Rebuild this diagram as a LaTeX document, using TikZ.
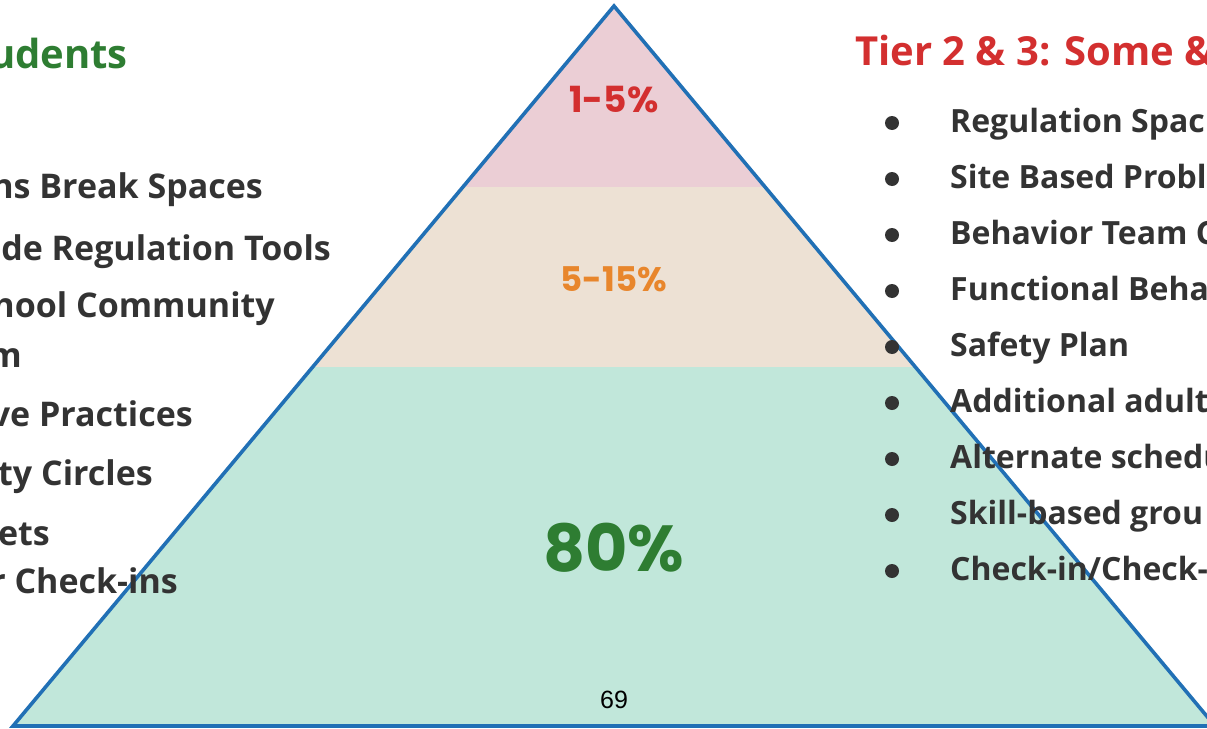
\documentclass[tikz,border=0pt]{standalone}
\usepackage{fontspec}
\setmainfont{Open Sans}
\newfontfamily\pctfont{Poppins}
\newfontfamily\numfont{Liberation Sans}
\definecolor{tgreen}{HTML}{2E7D32}
\definecolor{tred}{HTML}{D32F2F}
\definecolor{torange}{HTML}{E8862C}
\definecolor{tdark}{HTML}{333333}
\definecolor{fpink}{HTML}{EBCED5}
\definecolor{fbeige}{HTML}{EDE1D4}
\definecolor{fmint}{HTML}{C1E7DA}
\definecolor{pblue}{HTML}{2170B5}
\tikzset{
  head/.style={anchor=base west, inner sep=0pt, font=\fontsize{40}{46}\selectfont\bfseries},
  item/.style={anchor=base west, inner sep=0pt, text=tdark, font=\fontsize{32}{38}\selectfont\bfseries},
  litem/.style={anchor=base east, inner sep=0pt, text=tdark, font=\fontsize{34}{40}\selectfont\bfseries},
  pct/.style={anchor=base, inner sep=0pt},
  bul/.style={circle, fill=tdark, inner sep=0pt, minimum size=14pt},
}
\begin{document}
\begin{tikzpicture}[x=1pt,y=-1pt]
\useasboundingbox (0,0) rectangle (1207,728);
\clip (0,0) rectangle (1207,728);
% pyramid bands
\coordinate (A) at (614,6);
\coordinate (L) at (13,726);
\coordinate (R) at (1215,726);
\fill[fpink] (A) -- (463.75,187) -- (764.25,187) -- cycle;
\fill[fbeige] (463.75,187) -- (313.5,367) -- (914.5,367) -- (764.25,187) -- cycle;
\fill[fmint] (313.5,367) -- (L) -- (R) -- (914.5,367) -- cycle;
\draw[pblue, line width=3.6pt, line join=miter] (L) -- (A) -- (R) -- cycle;
% percentages
\node[pct, text=tred, font=\pctfont\bfseries\fontsize{36}{42}\selectfont] (p1) at (614,112) {1-5\%};
\node[pct, text=torange, font=\pctfont\bfseries\fontsize{34}{40}\selectfont] (p2) at (614,291) {5-15\%};
\node[pct, text=tgreen, font=\pctfont\bfseries\fontsize{65}{72}\selectfont] (p3) at (614,571) {80\%};
\node[anchor=base, inner sep=0pt, font=\numfont\fontsize{25}{30}\selectfont] (pg) at (614,708) {69};
% left column
\node[head, anchor=base east, text=tgreen] (lh) at (128,68) {udents};
\node[litem] (l1) at (263,198) {ns Break Spaces};
\node[litem] (l2) at (331,260) {de Regulation Tools};
\node[litem] (l3) at (275,317) {hool Community};
\node[litem] (l3b) at (22,367) {m};
\node[litem] (l4) at (193,426) {ve Practices};
\node[litem] (l5) at (153,485) {ty Circles};
\node[litem] (l6) at (50,545) {ets};
\node[litem] (l7) at (178,593) {r Check-ins};
% right column
\node[head, text=tred] (rh) at (855,65) {Tier 2 \& 3: Some \&};
\foreach \n/\y/\t in {1/132/{Regulation Spac}, 2/188/{Site Based Probl}, 3/244/{Behavior Team C}, 4/300/{Functional Beha}, 5/356/{Safety Plan}, 6/412/{Additional adult}, 7/468/{Alternate schedu}, 8/524/{Skill-based grou}, 9/580/{Check-in/Check-}}{
  \node[bul] (b\n) at (892,\y-9) {};
  \node[item] (r\n) at (950,\y) {\t};
}
\end{tikzpicture}
\end{document}
